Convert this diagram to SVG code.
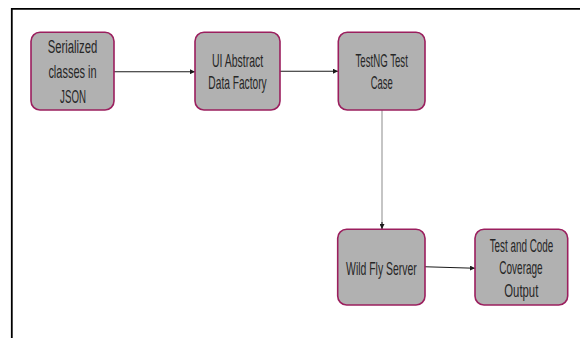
<svg xmlns="http://www.w3.org/2000/svg" width="580" height="338" viewBox="0 0 580 338">
<style>
.box{fill:#b1b1b1;stroke:#9b1f5e;stroke-width:1.6}
.t{font-family:"Liberation Sans",Arial,sans-serif;font-size:18px;fill:#262626;text-anchor:middle}
.c{fill:none;stroke:#1a1a1a;stroke-width:1.1}
.g{fill:none;stroke:#a6a6a6;stroke-width:1.3}
</style>
<defs>
<marker id="ah" viewBox="0 0 10 10" refX="10" refY="5" markerWidth="5" markerHeight="5" orient="auto" markerUnits="userSpaceOnUse">
<path d="M0,0 L10,5 L0,10 z" fill="#1a1a1a"/>
</marker>
</defs>
<rect width="580" height="338" fill="#ffffff"/>
<g id="frame">
<line x1="11" y1="8.8" x2="580" y2="8.8" stroke="#000" stroke-width="1.8"/>
<line x1="11.8" y1="8" x2="11.8" y2="338" stroke="#000" stroke-width="1.8"/>
</g>
<g id="connectors">
<line class="c" x1="114" y1="71.7" x2="195" y2="71.7" marker-end="url(#ah)"/>
<line class="c" x1="280" y1="71.2" x2="338" y2="71.2" marker-end="url(#ah)"/>
<line class="g" x1="382" y1="110" x2="382" y2="229"/>
<line class="c" x1="382" y1="222" x2="382" y2="229" marker-end="url(#ah)" stroke-width="0.8"/>
<line class="c" x1="425" y1="266.7" x2="475" y2="268.2" marker-end="url(#ah)"/>
</g>
<g id="n1">
<rect class="box" x="31" y="32.3" width="83" height="77.7" rx="9"/>
<text class="t" transform="matrix(0.628,0,0,1,72.5,52.7)">Serialized</text>
<text class="t" transform="matrix(0.611,0,0,1,72.5,78.3)">classes in</text>
<text class="t" transform="matrix(0.54,0,0,1,73,103.3)">JSON</text>
</g>
<g id="n2">
<rect class="box" x="195" y="32.3" width="85" height="77.7" rx="9"/>
<text class="t" transform="matrix(0.581,0,0,1,237.5,66.5)">UI Abstract</text>
<text class="t" transform="matrix(0.566,0,0,1,237.5,89.3)">Data Factory</text>
</g>
<g id="n3">
<rect class="box" x="338.3" y="32.3" width="86.7" height="77.7" rx="9"/>
<text class="t" transform="matrix(0.536,0,0,1,381.7,66.5)">TestNG Test</text>
<text class="t" transform="matrix(0.524,0,0,1,381.7,89.3)">Case</text>
</g>
<g id="n4">
<rect class="box" x="337.7" y="229.3" width="87.3" height="75.7" rx="9"/>
<text class="t" transform="matrix(0.58,0,0,1,381.4,274.7)">Wild Fly Server</text>
</g>
<g id="n5">
<rect class="box" x="475" y="229.3" width="92.7" height="75.7" rx="9"/>
<text class="t" transform="matrix(0.549,0,0,1,521.5,251.7)">Test and Code</text>
<text class="t" transform="matrix(0.555,0,0,1,521,274)">Coverage</text>
<text class="t" transform="matrix(0.63,0,0,1,521.3,297.3)">Output</text>
</g>
</svg>
